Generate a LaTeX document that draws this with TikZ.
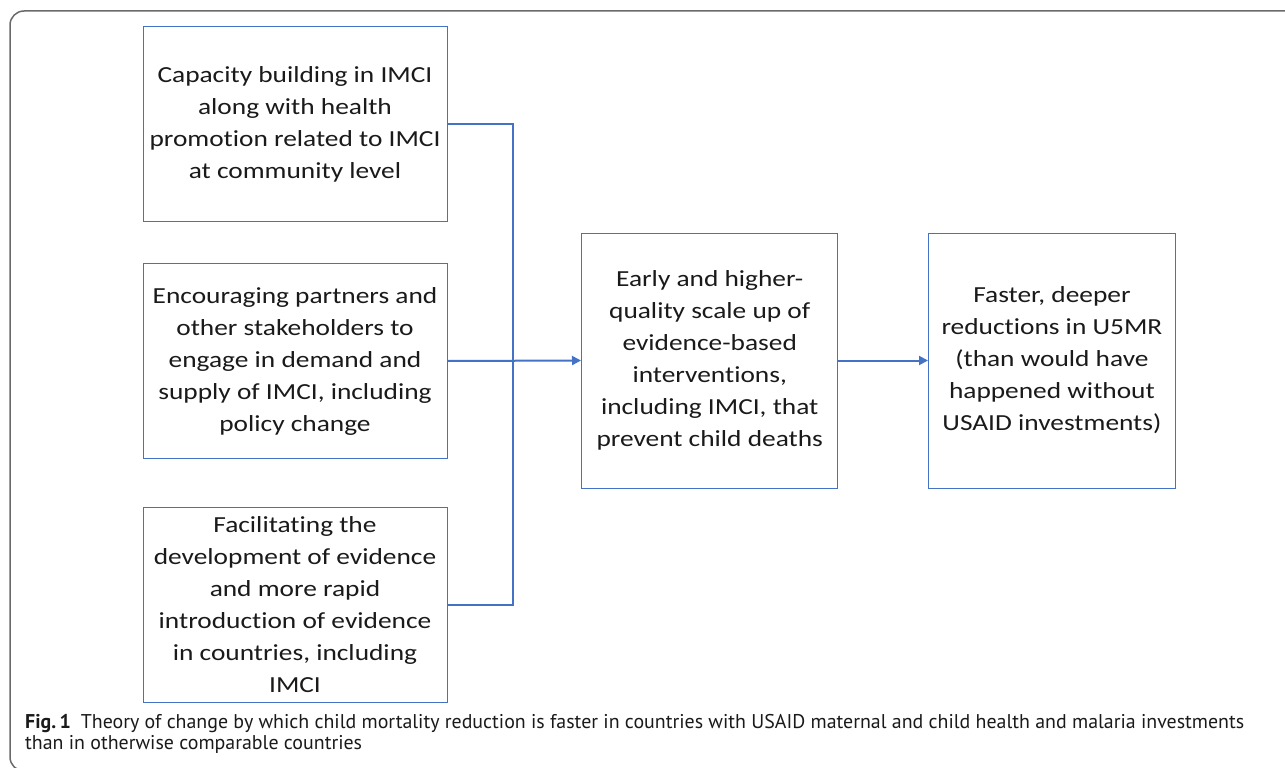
\documentclass[tikz,border=0pt]{standalone}
\usepackage{fontspec}
\newfontfamily\boxfont{Carlito}[FakeStretch=1.19,Ligatures=NoCommon]
\newfontfamily\capfont{PT Sans}
\usetikzlibrary{arrows.meta}
\definecolor{boxblue}{HTML}{4472C4}
\definecolor{framegray}{HTML}{6A6A6A}
\definecolor{txt}{HTML}{1A1A1A}
\begin{document}
\begin{tikzpicture}[x=1pt,y=-1pt,
  box/.style={draw=boxblue, line width=1pt, align=center, text=txt,
    font=\boxfont\fontsize{23}{32}\selectfont, inner sep=0pt},
  conn/.style={draw=boxblue, line width=2pt},
  arr/.style={conn, -{Triangle[length=9pt,width=9pt]}},
  captext/.style={anchor=base west, inner sep=0pt, text=txt,
    font=\capfont\fontsize{19.9}{21}\selectfont}]
\useasboundingbox (0,0) rectangle (1285,768);
\fill[white] (0,0) rectangle (1285,768);
\draw[framegray, line width=1.5pt, rounded corners=14pt] (1295,11) -- (10,11) -- (10,771) -- (1295,771);

\node[box, minimum width=304, minimum height=194] (b1) at (295,124)
  {Capacity building in IMCI\\along with health\\promotion related to IMCI\\at community level};
\node[box, minimum width=304, minimum height=195] (b2) at (295,361)
  {Encouraging partners and\\other stakeholders to\\engage in demand and\\supply of IMCI, including\\policy change};
\node[box, minimum width=304, minimum height=195] (b3) at (295,604.5)
  {Facilitating the\\development of evidence\\and more rapid\\introduction of evidence\\in countries, including\\IMCI};
\node[box, anchor=west, minimum height=255, inner xsep=15] (mid) at (581,360.5)
  {Early and higher-\\quality scale up of\\evidence-based\\interventions,\\including IMCI, that\\prevent child deaths};
\node[box, anchor=west, minimum height=255, inner xsep=13] (out) at (928,360.5)
  {Faster, deeper\\reductions in U5MR\\(than would have\\happened without\\USAID investments)};

\coordinate (j) at (513,361);
\draw[conn] (b1.east) -| (j);
\draw[conn] (b3.east) -| (j);
\draw[arr] (b2.east) -- (mid.west);
\draw[arr] (mid.east) -- (out.west);

\node[captext] (cap1) at (25,728) {\textbf{Fig.\,1}\hspace{10pt}Theory of change by which child mortality reduction is faster in countries with USAID maternal and child health and malaria investments};
\node[captext] (cap2) at (25,749) {than in otherwise comparable countries};
\end{tikzpicture}
\end{document}
